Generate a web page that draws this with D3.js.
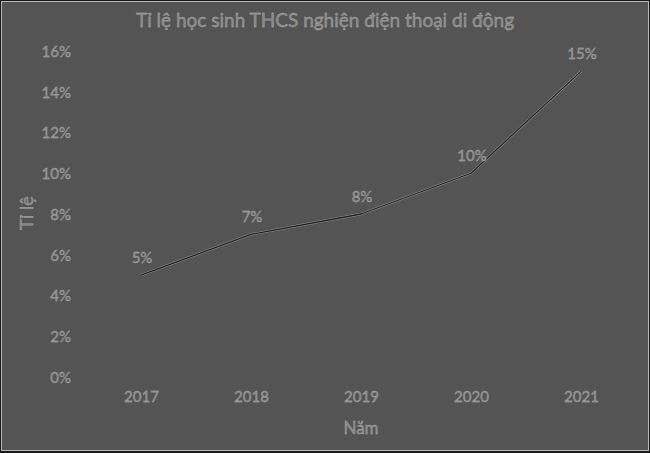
<!DOCTYPE html>
<html><head><meta charset="utf-8">
<script src="https://cdn.jsdelivr.net/npm/d3@7"></script>
<style>html,body{margin:0;padding:0;background:#1a1a1a;}</style>
</head><body>
<script>
const years = ["2017","2018","2019","2020","2021"];
const rates = [5, 7, 8, 10, 15];
const yTicks = [0, 2, 4, 6, 8, 10, 12, 14, 16];
const title = "Tỉ lệ học sinh THCS nghiện điện thoại di động";
const xTitle = "Năm";
const yTitle = "Tỉ lệ";

const W = 650, H = 453;
const svg = d3.select("body").append("svg").attr("width", W).attr("height", H);
svg.append("rect").attr("x",0).attr("y",0).attr("width",W).attr("height",H).attr("fill","#1a1a1a");
svg.append("rect").attr("x",1.5).attr("y",1.5).attr("width",W-3).attr("height",H-4)
  .attr("fill","#545454").attr("stroke","#b8b8b8").attr("stroke-width",1);

const font = "Lato, 'Open Sans', sans-serif";
const txtFill = "#858585", txtStroke = "#bdbdbd";
function styleText(sel, size){
  return sel.attr("font-family", font).attr("font-size", size)
    .attr("fill", txtFill).attr("stroke", txtStroke).attr("stroke-width", 0.3);
}

const x = d3.scalePoint().domain(years).range([141, 581]);
const y = d3.scaleLinear().domain([0, 16]).range([377, 51]);

// title
styleText(svg.append("text").attr("x", 325).attr("y", 27).attr("text-anchor","middle").text(title), 19);

// y axis
const yAxis = svg.append("g").attr("transform","translate(71,0)")
  .call(d3.axisLeft(y).tickValues(yTicks).tickSize(0).tickPadding(0).tickFormat(d => d + "%"));
yAxis.select(".domain").remove();
styleText(yAxis.selectAll("text"), 15).attr("dy","0.35em");

// x axis
const xAxis = svg.append("g").attr("transform","translate(0,391)")
  .call(d3.axisBottom(x).tickSize(0).tickPadding(0));
xAxis.select(".domain").remove();
styleText(xAxis.selectAll("text"), 15).attr("dy","0.75em");

// axis titles
styleText(svg.append("text").attr("x", 361).attr("y", 434).attr("text-anchor","middle").text(xTitle), 17);
styleText(svg.append("text").attr("transform","translate(33,213) rotate(-90)").attr("text-anchor","middle").text(yTitle), 18);

// line
const data = years.map((yr,i)=>({yr, v: rates[i]}));
const line = d3.line().x(d=>x(d.yr)).y(d=>y(d.v));
svg.append("path").datum(data).attr("d", line).attr("fill","none")
  .attr("stroke","#9a9a9a").attr("stroke-width",2.3).attr("stroke-linejoin","round");
svg.append("path").datum(data).attr("d", line).attr("fill","none")
  .attr("stroke","#1e1e1e").attr("stroke-width",1.3).attr("stroke-linejoin","round");

// data labels
styleText(svg.append("g").selectAll("text").data(data).join("text")
  .attr("x", d=>x(d.yr)+1).attr("y", d=>y(d.v)-12).attr("text-anchor","middle")
  .text(d=>d.v + "%"), 15);
</script>
</body></html>
